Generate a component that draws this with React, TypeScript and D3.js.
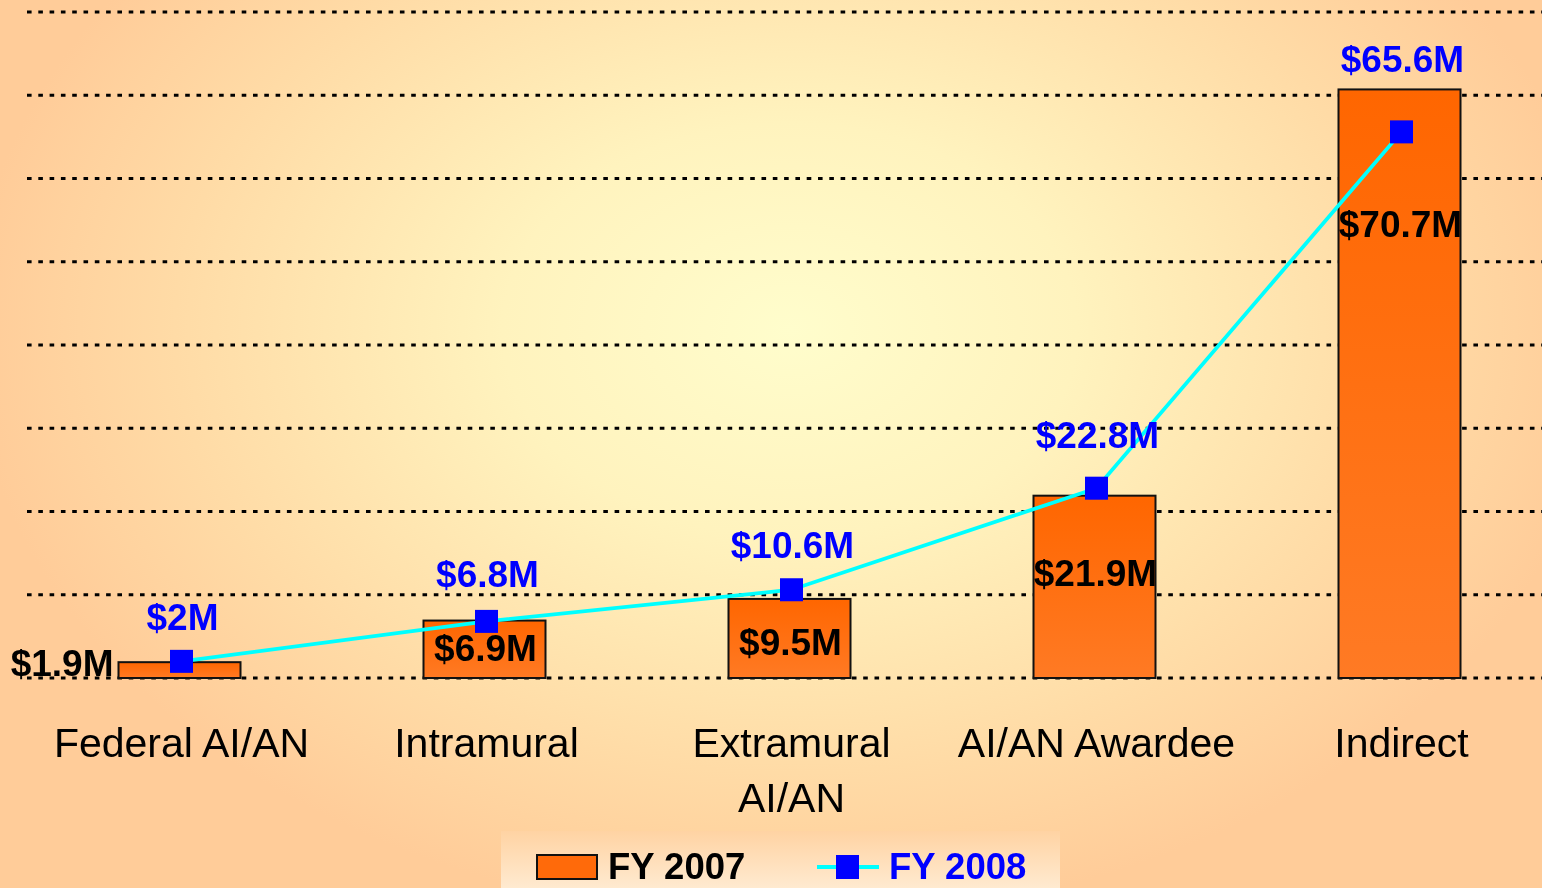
import * as d3 from "d3";
import { useEffect, useRef } from "react";

// chart data
const categories = ["Federal AI/AN", "Intramural", "Extramural AI/AN", "AI/AN Awardee", "Indirect"];
const categoryLines = [["Federal AI/AN"], ["Intramural"], ["Extramural", "AI/AN"], ["AI/AN Awardee"], ["Indirect"]];
const fy2007 = [1.9, 6.9, 9.5, 21.9, 70.7];
const fy2008 = [2, 6.8, 10.6, 22.8, 65.6];
const fy2007Labels = ["$1.9M", "$6.9M", "$9.5M", "$21.9M", "$70.7M"];
const fy2008Labels = ["$2M", "$6.8M", "$10.6M", "$22.8M", "$65.6M"];
const gridTicks = [0, 10, 20, 30, 40, 50, 60, 70, 80];

// label placement (baseline offset from the value's y position)
const fy2007LabelDy = [14, 40, 56, 90, 148];
const fy2008LabelDy = [-31, -34, -32, -40, -60];

const W = 1542;
const H = 888;
const FONT = "'Liberation Sans', Arial, sans-serif";

export default function App() {
  const svgRef = useRef<SVGSVGElement | null>(null);

  useEffect(() => {
    if (!svgRef.current) return;
    const svg = d3.select(svgRef.current);
    svg.selectAll("*").remove();

    const defs = svg.append("defs");
    const bg = defs.append("radialGradient")
      .attr("id", "bg")
      .attr("gradientUnits", "userSpaceOnUse")
      .attr("cx", 790).attr("cy", 330).attr("r", 820)
      .attr("gradientTransform", "translate(790,330) scale(1,0.72) translate(-790,-330)");
    bg.append("stop").attr("offset", "0").attr("stop-color", "#FFFDCC");
    bg.append("stop").attr("offset", "0.35").attr("stop-color", "#FFF3BE");
    bg.append("stop").attr("offset", "0.75").attr("stop-color", "#FFDBA6");
    bg.append("stop").attr("offset", "1").attr("stop-color", "#FFCC99");

    const barGrad = defs.append("linearGradient")
      .attr("id", "bar").attr("x1", 0).attr("y1", 0).attr("x2", 0).attr("y2", 1);
    barGrad.append("stop").attr("offset", "0").attr("stop-color", "#FF6600");
    barGrad.append("stop").attr("offset", "1").attr("stop-color", "#FF7A24");

    const legGrad = defs.append("linearGradient")
      .attr("id", "leg").attr("x1", 0).attr("y1", 0).attr("x2", 0).attr("y2", 1);
    legGrad.append("stop").attr("offset", "0").attr("stop-color", "#FFD3A3");
    legGrad.append("stop").attr("offset", "1").attr("stop-color", "#FFEAD0");

    svg.append("rect").attr("width", W).attr("height", H).attr("fill", "url(#bg)");

    const x = d3.scaleBand().domain(categories).range([29, 1554]);
    const y = d3.scaleLinear().domain([0, 80]).range([678, 12]);
    const cx = (c: string) => (x(c) ?? 0) + x.bandwidth() / 2;
    const barW = x.bandwidth() * 0.4;

    // gridlines
    svg.append("g")
      .selectAll("line")
      .data(gridTicks)
      .enter()
      .append("line")
      .attr("x1", 27)
      .attr("x2", W)
      .attr("y1", (d) => y(d))
      .attr("y2", (d) => y(d))
      .attr("stroke", "#000")
      .attr("stroke-width", 3)
      .attr("stroke-dasharray", "4.6 6.7");

    // FY 2007 bars
    svg.append("g")
      .selectAll("rect")
      .data(fy2007)
      .enter()
      .append("rect")
      .attr("x", (d, i) => cx(categories[i]) - 2 - barW / 2)
      .attr("y", (d) => y(d))
      .attr("width", barW)
      .attr("height", (d) => y(0) - y(d))
      .attr("fill", "url(#bar)")
      .attr("stroke", "#111")
      .attr("stroke-width", 2);

    // FY 2008 line
    const line = d3.line<number>()
      .x((d, i) => cx(categories[i]))
      .y((d) => y(d));
    svg.append("path")
      .datum(fy2008)
      .attr("d", line)
      .attr("fill", "none")
      .attr("stroke", "#00FFFF")
      .attr("stroke-width", 3.8);

    svg.append("g")
      .selectAll("rect")
      .data(fy2008)
      .enter()
      .append("rect")
      .attr("x", (d, i) => cx(categories[i]) - 11.5)
      .attr("y", (d) => y(d) - 11.5)
      .attr("width", 23)
      .attr("height", 23)
      .attr("fill", "#0000FF");

    // FY 2007 value labels
    svg.append("g")
      .selectAll("text")
      .data(fy2007)
      .enter()
      .append("text")
      .attr("x", (d, i) => (i === 0 ? cx(categories[i]) - 2 - barW / 2 - 5 : cx(categories[i]) - 1))
      .attr("y", (d, i) => y(d) + fy2007LabelDy[i])
      .attr("text-anchor", (d, i) => (i === 0 ? "end" : "middle"))
      .attr("font-family", FONT)
      .attr("font-weight", "bold")
      .attr("font-size", 37)
      .attr("fill", "#000")
      .text((d, i) => fy2007Labels[i]);

    // FY 2008 value labels
    svg.append("g")
      .selectAll("text")
      .data(fy2008)
      .enter()
      .append("text")
      .attr("x", (d, i) => cx(categories[i]) + 1)
      .attr("y", (d, i) => y(d) + fy2008LabelDy[i])
      .attr("text-anchor", "middle")
      .attr("font-family", FONT)
      .attr("font-weight", "bold")
      .attr("font-size", 37)
      .attr("fill", "#0000FF")
      .text((d, i) => fy2008Labels[i]);

    // category labels
    const cat = svg.append("g")
      .selectAll("text")
      .data(categories)
      .enter()
      .append("text")
      .attr("x", (d) => cx(d))
      .attr("y", 757)
      .attr("text-anchor", "middle")
      .attr("font-family", FONT)
      .attr("font-size", 41)
      .attr("fill", "#000");
    cat.each(function (d, i) {
      const t = d3.select(this);
      categoryLines[i].forEach((s, j) => {
        t.append("tspan").attr("x", cx(d)).attr("dy", j === 0 ? 0 : 55).text(s);
      });
    });

    // legend
    const leg = svg.append("g");
    leg.append("rect").attr("x", 501).attr("y", 831).attr("width", 559).attr("height", 57).attr("fill", "url(#leg)");
    leg.append("rect")
      .attr("x", 537).attr("y", 855).attr("width", 60).attr("height", 24)
      .attr("fill", "#FF6A0A").attr("stroke", "#111").attr("stroke-width", 2);
    leg.append("text")
      .attr("x", 608).attr("y", 879)
      .attr("font-family", FONT).attr("font-weight", "bold").attr("font-size", 36.5)
      .attr("fill", "#000").text("FY 2007");
    leg.append("line")
      .attr("x1", 817).attr("x2", 879).attr("y1", 867).attr("y2", 867)
      .attr("stroke", "#00FFFF").attr("stroke-width", 3.8);
    leg.append("rect")
      .attr("x", 836).attr("y", 855).attr("width", 23).attr("height", 24)
      .attr("fill", "#0000FF");
    leg.append("text")
      .attr("x", 889).attr("y", 879)
      .attr("font-family", FONT).attr("font-weight", "bold").attr("font-size", 36.5)
      .attr("fill", "#0000FF").text("FY 2008");
  }, []);

  return (
    <div style={{ position: "fixed", left: 0, top: 0, width: W, height: H, overflow: "hidden" }}>
      <svg ref={svgRef} width={W} height={H} style={{ display: "block" }}></svg>
    </div>
  );
}
